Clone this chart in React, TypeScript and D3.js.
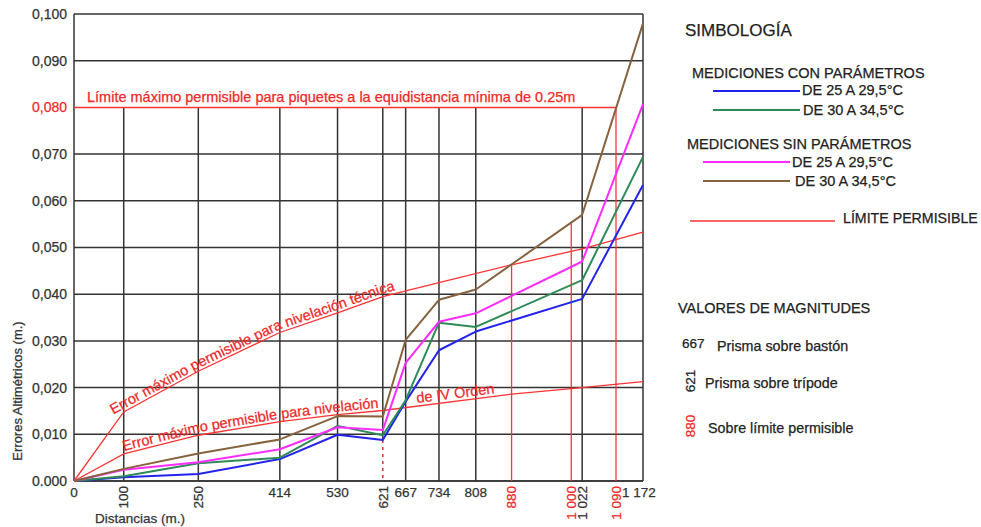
import React from 'react';
import * as d3 from 'd3';

// ---------- DATA ----------
const distances = [0, 100, 250, 414, 530, 621, 667, 734, 808, 1022, 1172];
const conParam25 = [0, 0.0008, 0.0015, 0.0047, 0.0099, 0.0088, 0.017, 0.028, 0.032, 0.039, 0.0634];
const conParam30 = [0, 0.001, 0.0038, 0.005, 0.0118, 0.0098, 0.0173, 0.0339, 0.033, 0.043, 0.0694];
const sinParam25 = [0, 0.0024, 0.004, 0.0068, 0.0115, 0.0109, 0.0253, 0.0341, 0.0359, 0.047, 0.0807];
const sinParam30 = [0, 0.0026, 0.0059, 0.0089, 0.0139, 0.0138, 0.0302, 0.0388, 0.041, 0.057, 0.098];

const tecnicaX = [0, 100, 250, 414, 530, 621, 734, 880, 1022, 1172];
const tecnicaY = [0, 0.0148, 0.0235, 0.0318, 0.036, 0.0395, 0.0425, 0.0463, 0.0497, 0.0533];
const ivOrdenX = [0, 100, 250, 414, 530, 621, 880, 1000, 1172];
const ivOrdenY = [0, 0.0058, 0.0098, 0.0127, 0.0142, 0.0151, 0.0186, 0.0198, 0.0213];
const piquetesLimit = 0.08;
const piquetesEnd = 1090;

const xTicks = [0, 100, 250, 414, 530, 621, 667, 734, 808, 880, 1000, 1022, 1090, 1172];
const xTickLabels = ['0', '100', '250', '414', '530', '621', '667', '734', '808', '880', '1 000', '1 022', '1 090', '1 172'];
const xTickKind = ['baston', 'tripode', 'tripode', 'baston', 'baston', 'tripode', 'baston', 'baston', 'baston', 'limite', 'limite', 'tripode', 'limite', 'baston'];
const overLimitX = [880, 1000, 1090];
const overLimitTop = [0.0463, 0.0552, 0.08];
const yTicks = [0, 0.01, 0.02, 0.03, 0.04, 0.05, 0.06, 0.07, 0.08, 0.09, 0.1];
const yTickLabels = ['0.000', '0,010', '0,020', '0,030', '0,040', '0,050', '0,060', '0,070', '0,080', '0,090', '0,100'];

const seriesNames = ['DE 25 A 29,5°C', 'DE 30 A 34,5°C', 'DE 25 A 29,5°C', 'DE 30 A 34,5°C'];

// ---------- STYLE ----------
const FONT = "'Liberation Sans', Arial, Helvetica, sans-serif";
const C_BLUE = '#2323ee';
const C_GREEN = '#2e8b57';
const C_PINK = '#ff2cff';
const C_BROWN = '#86633f';
const C_RED = '#ff3333';
const C_REDTXT = '#f02828';
const C_GRID = '#333333';
const C_TXT = '#333333';

const W = 981;
const H = 527;

export default function App() {
  const x = d3.scaleLinear().domain([0, piquetesEnd, 1172]).range([74, 616, 643]);
  const y = d3.scaleLinear().domain([0, 0.1]).range([481, 14]);
  const xMin = x(0);
  const xMax = x(1172);

  const line = d3.line<[number, number]>().x(d => x(d[0])).y(d => y(d[1]));
  const pxLine = d3.line<[number, number]>().x(d => d[0]).y(d => d[1]);

  const series = [
    { vals: conParam25, color: C_BLUE },
    { vals: conParam30, color: C_GREEN },
    { vals: sinParam25, color: C_PINK },
    { vals: sinParam30, color: C_BROWN },
  ];

  const tecPts: [number, number][] = tecnicaX.map((d, i) => [d, tecnicaY[i]]);
  const ivPts: [number, number][] = ivOrdenX.map((d, i) => [d, ivOrdenY[i]]);

  const tp = tecPts.slice(1).map(d => [x(d[0]), y(d[1]) - 3] as [number, number]);
  const dx = tp[1][0] - tp[0][0];
  const dy = tp[1][1] - tp[0][1];
  const len = Math.hypot(dx, dy);
  const tecText: [number, number][] = [[tp[0][0] - (dx / len) * 12, tp[0][1] - (dy / len) * 12], ...tp];

  const ivp = ivPts.slice(1).map(d => [x(d[0]), y(d[1]) - 3] as [number, number]);
  const arcTo = (pts: [number, number][], px: number) => {
    let s = 0;
    for (let i = 1; i < pts.length; i++) {
      const [x0, y0] = pts[i - 1];
      const [x1, y1] = pts[i];
      if (px <= x1) {
        const t = (px - x0) / (x1 - x0);
        return s + Math.hypot(x1 - x0, y1 - y0) * t;
      }
      s += Math.hypot(x1 - x0, y1 - y0);
    }
    return s;
  };
  const ivOrdenOffset = arcTo(ivp, x(690));

  const i621 = distances.indexOf(621);
  const minAt621 = Math.min(...series.map(s => s.vals[i621]));

  const txtStroke = { stroke: 'currentColor', strokeWidth: 0.25 } as const;

  return (
    <svg width={W} height={H} style={{ position: 'absolute', left: 0, top: 0, display: 'block', background: '#fff' }} fontFamily={FONT}>
      <defs>
        <path id="tecPath" d={pxLine(tecText) || ''} />
        <path id="ivPath" d={pxLine(ivp) || ''} />
      </defs>

      {/* horizontal grid */}
      {yTicks.map((t, i) => (
        <line key={'h' + i} x1={xMin} x2={xMax} y1={y(t)} y2={y(t)}
          stroke={t === piquetesLimit ? 'none' : C_GRID} strokeWidth={1.5} />
      ))}
      {/* vertical grid (from 0.080 down) */}
      {xTicks.map((t, i) => {
        if (xTickKind[i] === 'limite' || t === 0 || t === 1172) return null;
        const yBottom = t === 621 ? y(minAt621) : y(0);
        return <line key={'v' + i} x1={x(t)} x2={x(t)} y1={y(piquetesLimit)} y2={yBottom} stroke={C_GRID} strokeWidth={1.5} />;
      })}
      <line x1={x(621)} x2={x(621)} y1={y(minAt621)} y2={y(0)} stroke="#c0392b" strokeWidth={1.5} strokeDasharray="3,4" />
      {/* frame */}
      <line x1={xMin} x2={xMin} y1={y(0)} y2={y(0.1)} stroke={C_GRID} strokeWidth={1.5} />
      <line x1={xMax} x2={xMax} y1={y(0)} y2={y(0.1)} stroke={C_GRID} strokeWidth={1.5} />
      <line x1={xMin} x2={xMax} y1={y(0)} y2={y(0)} stroke={C_GRID} strokeWidth={1.5} />

      {/* red limits */}
      <line x1={xMin} x2={x(piquetesEnd)} y1={y(piquetesLimit)} y2={y(piquetesLimit)} stroke={C_RED} strokeWidth={1.5} />
      {overLimitX.map((t, i) => (
        <line key={'r' + i} x1={x(t)} x2={x(t)} y1={y(0)} y2={y(overLimitTop[i])} stroke={C_RED} strokeWidth={1.3} />
      ))}
      <path d={line(tecPts) || ''} fill="none" stroke={C_RED} strokeWidth={1.3} />
      <path d={line(ivPts) || ''} fill="none" stroke={C_RED} strokeWidth={1.3} />

      {/* data */}
      {series.map((s, k) => (
        <path key={'s' + k} d={line(distances.map((d, i) => [d, s.vals[i]] as [number, number])) || ''}
          fill="none" stroke={s.color} strokeWidth={2} strokeLinejoin="round" />
      ))}

      {/* annotations */}
      <g style={{ color: C_REDTXT }} fill={C_REDTXT} {...txtStroke}>
        <text x={87} y={102} fontSize={14.5}>Límite máximo permisible para piquetes a la equidistancia mínima de 0.25m</text>
        <text fontSize={14.5}>
          <textPath href="#tecPath" startOffset={0}>Error máximo permisible para nivelación técnica</textPath>
        </text>
        <text fontSize={14.5}>
          <textPath href="#ivPath" startOffset={0}>Error máximo permisible para nivelación</textPath>
        </text>
        <text fontSize={14.5}>
          <textPath href="#ivPath" startOffset={ivOrdenOffset}>de IV Orden</textPath>
        </text>
      </g>

      {/* y ticks */}
      {yTicks.map((t, i) => {
        const col = t === piquetesLimit ? C_REDTXT : C_TXT;
        return (
          <text key={'yt' + i} x={67} y={y(t)} dy="0.35em" textAnchor="end" fontSize={14}
            fill={col} style={{ color: col }} {...txtStroke}>{yTickLabels[i]}</text>
        );
      })}
      {/* x ticks */}
      {xTicks.map((t, i) => {
        const kind = xTickKind[i];
        const col = kind === 'limite' ? C_REDTXT : C_TXT;
        if (kind === 'baston') {
          const px = t === 1172 ? x(t) - 4 : x(t);
          return <text key={'xt' + i} x={px} y={497} textAnchor="middle" fontSize={13.5} fill={col} style={{ color: col }} {...txtStroke}>{xTickLabels[i]}</text>;
        }
        return (
          <text key={'xt' + i} transform={`translate(${x(t)},486) rotate(-90)`} dy="0.35em" textAnchor="end" fontSize={13.5} fill={col} style={{ color: col }} {...txtStroke}>{xTickLabels[i]}</text>
        );
      })}

      {/* axis titles */}
      <g fill={C_TXT} style={{ color: C_TXT }} {...txtStroke}>
        <text x={95} y={523} fontSize={13.5}>Distancias (m.)</text>
        <text transform="translate(17,391) rotate(-90)" dy="0.35em" textAnchor="middle" fontSize={13}>Errores Altimétricos (m.)</text>
      </g>

      {/* legend */}
      <g fill="#222" style={{ color: '#222' }}>
        <text x={685} y={36} fontSize={17} {...txtStroke}>SIMBOLOGÍA</text>
        <text x={692} y={78} fontSize={14.5} {...txtStroke}>MEDICIONES CON PARÁMETROS</text>
        <line x1={713} x2={800} y1={91} y2={91} stroke={C_BLUE} strokeWidth={2} />
        <text x={802} y={95} fontSize={14.5} {...txtStroke}>{seriesNames[0]}</text>
        <line x1={713} x2={800} y1={110} y2={110} stroke={C_GREEN} strokeWidth={2} />
        <text x={803} y={115} fontSize={14.5} {...txtStroke}>{seriesNames[1]}</text>
        <text x={687} y={149} fontSize={14.5} {...txtStroke}>MEDICIONES SIN PARÁMETROS</text>
        <line x1={703} x2={790} y1={162} y2={162} stroke={C_PINK} strokeWidth={2} />
        <text x={792} y={167} fontSize={14.5} {...txtStroke}>{seriesNames[2]}</text>
        <line x1={703} x2={790} y1={181} y2={181} stroke={C_BROWN} strokeWidth={2} />
        <text x={795} y={186} fontSize={14.5} {...txtStroke}>{seriesNames[3]}</text>
        <line x1={690} x2={835} y1={221} y2={221} stroke={C_RED} strokeWidth={1.5} />
        <text x={843} y={223} fontSize={14.2} {...txtStroke}>LÍMITE PERMISIBLE</text>

        <text x={678} y={313} fontSize={14.5} {...txtStroke}>VALORES DE MAGNITUDES</text>
        <text x={682} y={348} fontSize={13.5} {...txtStroke}>{xTickLabels[6]}</text>
        <text x={717} y={351} fontSize={14.3} {...txtStroke}>Prisma sobre bastón</text>
        <text transform="translate(690,381) rotate(-90)" dy="0.35em" textAnchor="middle" fontSize={13.5} {...txtStroke}>{xTickLabels[5]}</text>
        <text x={705} y={388} fontSize={14.3} {...txtStroke}>Prisma sobre trípode</text>
        <text transform="translate(690,426) rotate(-90)" dy="0.35em" textAnchor="middle" fontSize={13.5} fill={C_REDTXT} style={{ color: C_REDTXT }} {...txtStroke}>{xTickLabels[9]}</text>
        <text x={708} y={433} fontSize={14.3} {...txtStroke}>Sobre límite permisible</text>
      </g>
    </svg>
  );
}
